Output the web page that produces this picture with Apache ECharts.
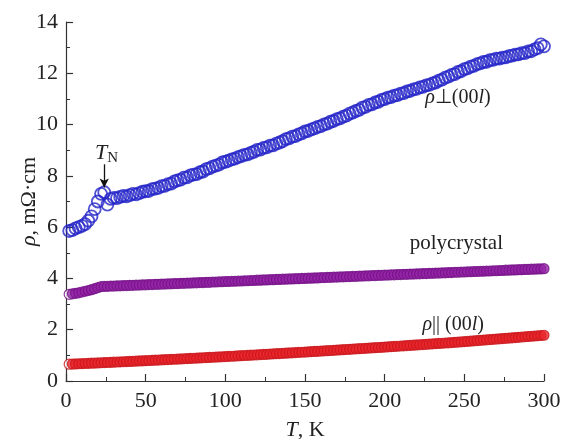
<!DOCTYPE html>
<html><head><meta charset="utf-8">
<script src="https://cdn.jsdelivr.net/npm/echarts@6/dist/echarts.min.js"></script>
<style>html,body{margin:0;padding:0;background:#fff}#c{width:565px;height:439px}</style>
</head><body><div id="c"></div>
<script>
// ---- data ----
// temperatures (K) shared by the three data sets
const temps = [2,4,6,8,10,12,14,16,18,20,22,24,26,28,30,32,34,36,38,40,42,44,46,48,50,52,54,56,58,60,62,64,66,68,70,72,74,76,78,80,82,84,86,88,90,92,94,96,98,100,102,104,106,108,110,112,114,116,118,120,122,124,126,128,130,132,134,136,138,140,142,144,146,148,150,152,154,156,158,160,162,164,166,168,170,172,174,176,178,180,182,184,186,188,190,192,194,196,198,200,202,204,206,208,210,212,214,216,218,220,222,224,226,228,230,232,234,236,238,240,242,244,246,248,250,252,254,256,258,260,262,264,266,268,270,272,274,276,278,280,282,284,286,288,290,292,294,296,298,300];

// rho perpendicular (00l), mOhm*cm
const rhoPerp = [5.85,5.88,5.95,6.0,6.05,6.12,6.25,6.42,6.7,7.0,7.3,7.36,6.88,7.1,7.14,7.13,7.18,7.22,7.2,7.25,7.3,7.28,7.33,7.38,7.4,7.41,7.48,7.5,7.53,7.6,7.61,7.68,7.7,7.78,7.82,7.85,7.93,7.94,8.02,8.05,8.07,8.14,8.17,8.26,8.29,8.36,8.4,8.44,8.52,8.55,8.59,8.64,8.67,8.73,8.77,8.82,8.84,8.9,8.94,9.01,9.02,9.09,9.11,9.18,9.19,9.26,9.3,9.35,9.43,9.46,9.53,9.55,9.62,9.66,9.73,9.75,9.81,9.85,9.91,9.94,10.01,10.04,10.11,10.14,10.21,10.24,10.31,10.35,10.43,10.47,10.53,10.57,10.66,10.69,10.77,10.79,10.86,10.89,10.96,10.99,11.05,11.07,11.13,11.15,11.21,11.23,11.29,11.31,11.37,11.39,11.45,11.47,11.53,11.55,11.61,11.64,11.71,11.75,11.83,11.87,11.94,11.97,12.05,12.08,12.16,12.19,12.26,12.29,12.36,12.39,12.44,12.45,12.51,12.52,12.57,12.57,12.61,12.62,12.67,12.69,12.73,12.74,12.79,12.79,12.85,12.86,12.93,12.98,13.13,13.05];

// polycrystal
const rhoPoly = [3.38,3.40,3.42,3.44,3.47,3.50,3.53,3.56,3.60,3.64,3.68,3.69,3.69,3.70,3.70,3.71,3.71,3.72,3.72,3.73,3.73,3.74,3.74,3.75,3.75,3.76,3.76,3.77,3.77,3.78,3.78,3.79,3.79,3.80,3.80,3.81,3.81,3.82,3.82,3.83,3.83,3.84,3.84,3.85,3.85,3.86,3.86,3.87,3.87,3.88,3.88,3.89,3.89,3.90,3.90,3.91,3.91,3.92,3.92,3.93,3.93,3.94,3.94,3.95,3.95,3.96,3.96,3.97,3.97,3.98,3.98,3.99,3.99,4.00,4.00,4.01,4.01,4.02,4.02,4.03,4.03,4.04,4.04,4.05,4.05,4.06,4.06,4.07,4.07,4.08,4.08,4.09,4.09,4.10,4.10,4.11,4.11,4.12,4.12,4.13,4.13,4.14,4.14,4.15,4.15,4.16,4.16,4.17,4.17,4.18,4.18,4.19,4.19,4.20,4.20,4.21,4.21,4.22,4.22,4.23,4.23,4.24,4.24,4.25,4.25,4.26,4.26,4.27,4.27,4.28,4.28,4.29,4.29,4.30,4.30,4.31,4.31,4.32,4.32,4.33,4.33,4.34,4.34,4.35,4.35,4.36,4.36,4.37,4.37,4.38];

// rho parallel (00l)
const rhoPar = [0.655,0.661,0.666,0.672,0.677,0.683,0.688,0.694,0.70,0.705,0.711,0.717,0.722,0.728,0.734,0.740,0.745,0.751,0.757,0.763,0.769,0.775,0.781,0.787,0.793,0.799,0.805,0.811,0.817,0.824,0.830,0.836,0.842,0.848,0.855,0.861,0.868,0.874,0.880,0.887,0.893,0.900,0.906,0.913,0.919,0.926,0.933,0.939,0.946,0.953,0.959,0.966,0.973,0.980,0.987,0.994,1.000,1.007,1.014,1.021,1.028,1.035,1.042,1.050,1.057,1.064,1.071,1.078,1.085,1.093,1.100,1.107,1.115,1.122,1.129,1.137,1.144,1.152,1.159,1.167,1.174,1.182,1.190,1.197,1.205,1.213,1.220,1.228,1.236,1.244,1.252,1.259,1.267,1.275,1.283,1.291,1.299,1.307,1.315,1.323,1.331,1.340,1.348,1.356,1.364,1.372,1.381,1.389,1.397,1.406,1.414,1.422,1.431,1.439,1.447,1.456,1.464,1.473,1.481,1.490,1.498,1.507,1.516,1.525,1.535,1.545,1.555,1.565,1.575,1.585,1.595,1.605,1.615,1.625,1.635,1.645,1.655,1.665,1.675,1.685,1.695,1.705,1.715,1.725,1.735,1.745,1.755,1.765,1.775,1.785];

const xTicks = [0,50,100,150,200,250,300];
const yTicks = [0,2,4,6,8,10,12,14];

const FONT = '"Liberation Serif","Times New Roman",serif';
const pairs = (a,b)=>a.map((v,i)=>[v,b[i]]);
const firstWhite = (data)=>data.map((d,i)=> i===0 ? {value:d,itemStyle:{color:'#fff'}} : d);

const chart = echarts.init(document.getElementById('c'));
const axisCommon = {
  axisLine:{show:true,lineStyle:{color:'#333',width:1.2}},
  axisTick:{show:true,inside:true,length:7,lineStyle:{color:'#333',width:1.2}},
  minorTick:{show:true,splitNumber:2,length:4,lineStyle:{color:'#333',width:1}},
  splitLine:{show:false}
};
const italicRich = {i:{fontFamily:FONT,fontStyle:'italic',fontSize:22,color:'#222'}};

chart.setOption({
  animation:false,
  backgroundColor:'#fff',
  grid:{left:66,right:21,top:22,bottom:58,containLabel:false,outerBoundsMode:'none'},
  xAxis:Object.assign({}, axisCommon, {
    type:'value',min:xTicks[0],max:xTicks[xTicks.length-1],interval:50,
    name:'{i|T}, K',nameLocation:'middle',nameGap:38,nameMoveOverlap:false,
    nameTextStyle:{fontFamily:FONT,fontSize:22,color:'#222',rich:italicRich},
    axisLabel:{fontFamily:FONT,fontSize:22,color:'#222',margin:9}
  }),
  yAxis:Object.assign({}, axisCommon, {
    type:'value',min:yTicks[0],max:yTicks[yTicks.length-1],interval:2,
    name:'{i|ρ}, mΩ·cm',nameLocation:'middle',nameGap:26,nameRotate:90,nameMoveOverlap:false,
    nameTextStyle:{fontFamily:FONT,fontSize:22,color:'#222',rich:italicRich},
    axisLabel:{fontFamily:FONT,fontSize:22,color:'#222',margin:8}
  }),
  series:[
    {
      type:'scatter',name:'par',data:firstWhite(pairs(temps,rhoPar)),symbol:'circle',symbolSize:10,
      itemStyle:{color:'#e8262b',borderColor:'#c8151b',borderWidth:1.2},
      markPoint:{symbol:'circle',symbolSize:0,silent:true,
        label:{show:true,formatter:'{i|ρ}|| (00{i|l})',fontFamily:FONT,fontSize:20,color:'#222',
          rich:{i:{fontFamily:FONT,fontStyle:'italic',fontSize:20,color:'#222'}}},
        data:[{coord:[243,2.2]}]}
    },
    {
      type:'scatter',name:'poly',data:firstWhite(pairs(temps,rhoPoly)),symbol:'circle',symbolSize:10,
      itemStyle:{color:'#9324a6',borderColor:'#741086',borderWidth:1.2},
      markPoint:{symbol:'circle',symbolSize:0,silent:true,
        label:{show:true,formatter:'polycrystal',fontFamily:FONT,fontSize:21,color:'#222'},
        data:[{coord:[245,5.35]}]}
    },
    {
      type:'scatter',name:'perp',data:pairs(temps,rhoPerp),symbol:'circle',symbolSize:12,
      itemStyle:{color:'rgba(255,255,255,0)',borderColor:'#2424c8',borderWidth:1.8},
      markPoint:{symbol:'circle',symbolSize:0,silent:true,
        label:{show:true,formatter:'{i|ρ}⊥(00{i|l})',fontFamily:FONT,fontSize:20,color:'#222',
          rich:{i:{fontFamily:FONT,fontStyle:'italic',fontSize:20,color:'#222'}}},
        data:[{coord:[246,11.05]},{coord:[25.5,8.9],label:{formatter:'{t|T}{s|N}',rich:{t:{fontFamily:FONT,fontStyle:'italic',fontSize:22,color:'#222'},s:{fontFamily:FONT,fontSize:15,color:'#222',padding:[10,0,0,0]}}}}]},
      markLine:{silent:true,symbol:['none','arrow'],symbolSize:[7,9],
        lineStyle:{color:'#111',width:1.3,type:'solid'},label:{show:false},
        data:[[{coord:[24,8.45]},{coord:[24,7.55]}]]}
    }
  ]
});
</script></body></html>
